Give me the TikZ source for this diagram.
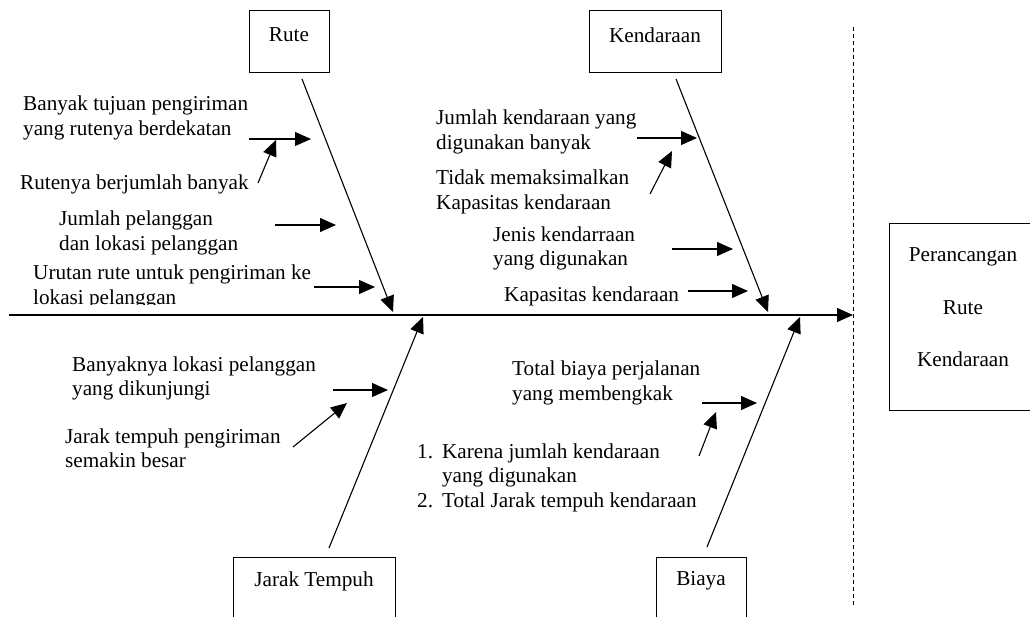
\documentclass[tikz,border=0pt]{standalone}
\usepackage{fontspec}
\setmainfont{Liberation Serif}
\usetikzlibrary{arrows.meta}
\begin{document}
\begin{tikzpicture}[x=1pt,y=-1pt,
  every node/.style={inner sep=0pt,font=\fontsize{21.2}{24.2}\selectfont},
  lbl/.style={anchor=west,align=left},
  ctr/.style={anchor=center,align=center},
  box/.style={draw,line width=1pt},
  arr/.style={line width=1.1pt,-{Triangle[length=16pt,width=14pt]}}]
\clip (0,0) rectangle (1030,617);
% boxes
\draw[box] (249,11) rectangle (329,73);
\draw[box] (589,11) rectangle (721,73);
\draw[box] (233,557) rectangle (395,640);
\draw[box] (656,557) rectangle (746,640);
\draw[box] (889,224) rectangle (1040,410);
\node[ctr] (tRute) at (289,35) {Rute};
\node[ctr] (tKend) at (655,35) {Kendaraan};
\node[ctr] (tJarak) at (314,581) {Jarak Tempuh};
\node[ctr] (tBiaya) at (701,581) {Biaya};
\node[ctr] (tP1) at (963,257) {Perancangan};
\node[ctr] (tP2) at (963,308) {Rute};
\node[ctr] (tP3) at (963,359) {Kendaraan};
% dashed line
\coordinate (d1) at (853,27);
\coordinate (d2) at (853,605);
\draw[line width=1pt,dash pattern=on 4pt off 3pt] (d1) -- (d2);
% spine
\coordinate (s0) at (9,315);
\coordinate (s1) at (853,315);
\draw[arr] (s0) -- (s1);
% bones
\coordinate (rA) at (302,79);  \coordinate (rB) at (393,312);
\coordinate (kA) at (676,79);  \coordinate (kB) at (768,312);
\coordinate (jA) at (329,548); \coordinate (jB) at (423,317);
\coordinate (bA) at (707,547); \coordinate (bB) at (800,317);
\draw[arr] (rA) -- (rB);
\draw[arr] (kA) -- (kB);
\draw[arr] (jA) -- (jB);
\draw[arr] (bA) -- (bB);
% texts
\node[lbl] (t1) at (23,118) {Banyak tujuan pengiriman\\yang rutenya berdekatan};
\node[lbl] (t2) at (20,184) {Rutenya berjumlah banyak};
\node[lbl] (t3) at (59,233) {Jumlah pelanggan\\dan lokasi pelanggan};
\begin{scope}
\clip (0,250) rectangle (400,305);
\node[lbl] (t4) at (33,287) {Urutan rute untuk pengiriman ke\\lokasi pelanggan};
\end{scope}
\node[lbl] (t5) at (436,132) {Jumlah kendaraan yang\\digunakan banyak};
\node[lbl] (t7) at (436,192) {Tidak memaksimalkan\\Kapasitas kendaraan};
\node[lbl] (t8) at (493,248.5) {Jenis kendarraan\\yang digunakan};
\node[lbl] (t9) at (504,296) {Kapasitas kendaraan};
\node[lbl] (t10) at (72,378.5) {Banyaknya lokasi pelanggan\\yang dikunjungi};
\node[lbl] (t12) at (65,448.5) {Jarak tempuh pengiriman\\semakin besar};
\node[lbl] (t13) at (512,383) {Total biaya perjalanan\\yang membengkak};
\node[lbl] (t15) at (417,478) {\begin{tabular}{@{}l@{\hspace{9pt}}l@{}}1. & Karena jumlah kendaraan\\ & yang digunakan\\2. & Total Jarak tempuh kendaraan\end{tabular}};
% small arrows
\coordinate (a1s) at (249,139); \coordinate (a1e) at (311,139);
\coordinate (a2s) at (258,183); \coordinate (a2e) at (276,140);
\coordinate (a3s) at (275,225); \coordinate (a3e) at (336,225);
\coordinate (a4s) at (314,287); \coordinate (a4e) at (375,287);
\coordinate (a5s) at (637,138); \coordinate (a5e) at (697,138);
\coordinate (a6s) at (650,194); \coordinate (a6e) at (672,151);
\coordinate (a7s) at (672,249); \coordinate (a7e) at (733,249);
\coordinate (a8s) at (688,291); \coordinate (a8e) at (748,291);
\coordinate (a9s) at (333,390); \coordinate (a9e) at (388,390);
\coordinate (a10s) at (293,447); \coordinate (a10e) at (347,403);
\coordinate (a11s) at (702,403); \coordinate (a11e) at (757,403);
\coordinate (a12s) at (699,456); \coordinate (a12e) at (716,412);
\foreach \i in {1,...,12} {\draw[arr] (a\i s) -- (a\i e);}
\end{tikzpicture}
\end{document}
